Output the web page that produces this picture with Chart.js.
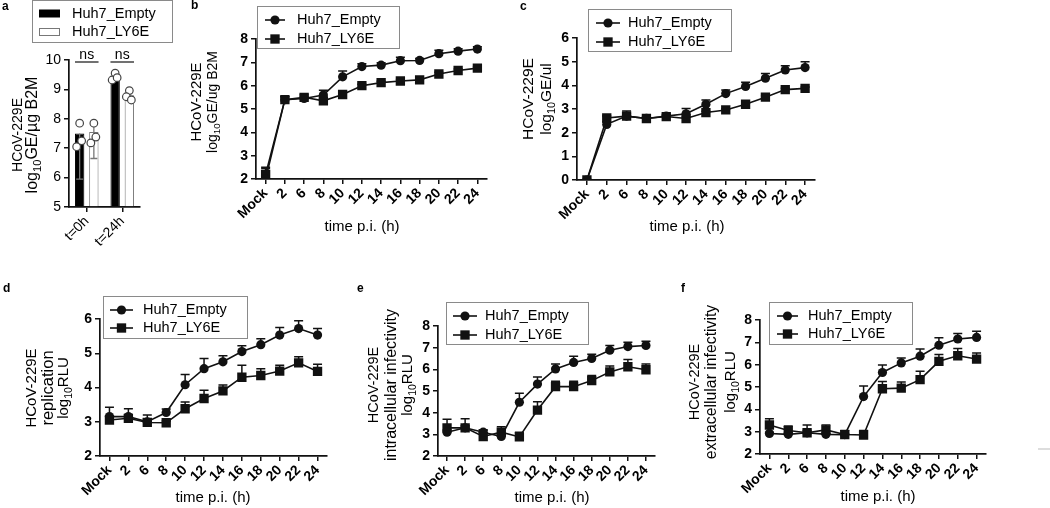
<!DOCTYPE html>
<html lang="en">
<head>
<meta charset="UTF-8">
<title>HCoV-229E - Huh7_Empty vs Huh7_LY6E</title>
<script src="https://cdn.jsdelivr.net/npm/chart.js"></script>
<style>
  html, body { margin: 0; padding: 0; background: #fff; }
  body { width: 1050px; height: 508px; position: relative; overflow: hidden; }
  canvas { position: absolute; }
  .rule { position: absolute; left: 1038px; top: 448px; width: 12px; height: 2px; background: #ddd; }
</style>
</head>
<body>
<div class="rule"></div>
<script>
// ---- data ----
const seriesNames = ['Huh7_Empty', 'Huh7_LY6E'];
const timeLabels = ['Mock', '2', '6', '8', '10', '12', '14', '16', '18', '20', '22', '24'];

// a: genome copies, t=0h / t=24h
const aGroups = ['t=0h', 't=24h'];
const aEmptyMean = [7.5, 9.35];
const aLy6eMean = [7.55, 8.8];
const aEmptyErrDown = [1.55, 0];
const aEmptyErrUp = [0, 0];
const aLy6eErrDown = [0.9, 0];
const aLy6eErrUp = [0.3, 0];
const aEmptyDots = [[7.85, 7.05, 7.25], [9.55, 9.32, 9.4]];
const aLy6eDots = [[7.85, 7.18, 7.38], [8.96, 8.75, 8.64]];
const aSig = ['ns', 'ns'];

// b: log10 GE/ug B2M
const bEmpty = [2.0, 5.4, 5.45, 5.6, 6.38, 6.82, 6.88, 7.07, 7.08, 7.37, 7.48, 7.57];
const bEmptyErr = [0.45, 0.12, 0.1, 0.2, 0.25, 0.12, 0.1, 0.15, 0.08, 0.15, 0.1, 0.1];
const bLy6e = [2.2, 5.4, 5.5, 5.35, 5.62, 6.0, 6.13, 6.2, 6.25, 6.5, 6.65, 6.75];
const bLy6eErr = [0.3, 0.12, 0.12, 0.1, 0.1, 0.06, 0.06, 0.06, 0.06, 0.08, 0.06, 0.06];

// c: log10 GE/ul
const cEmpty = [0, 2.35, 2.7, 2.6, 2.7, 2.8, 3.2, 3.65, 3.95, 4.3, 4.65, 4.75];
const cEmptyErr = [0, 0.1, 0.22, 0.08, 0.08, 0.22, 0.18, 0.15, 0.18, 0.2, 0.18, 0.25];
const cLy6e = [0, 2.62, 2.7, 2.6, 2.68, 2.6, 2.85, 2.96, 3.2, 3.5, 3.82, 3.87];
const cLy6eErr = [0, 0.08, 0.1, 0.06, 0.06, 0.06, 0.06, 0.05, 0.06, 0.06, 0.06, 0.06];

// d: replication log10 RLU
const dEmpty = [3.15, 3.15, 3.0, 3.27, 4.08, 4.55, 4.75, 5.05, 5.25, 5.53, 5.72, 5.53];
const dEmptyErr = [0.27, 0.23, 0.2, 0.1, 0.3, 0.3, 0.18, 0.17, 0.17, 0.22, 0.23, 0.19];
const dLy6e = [3.05, 3.1, 2.98, 2.97, 3.38, 3.68, 3.9, 4.3, 4.35, 4.48, 4.72, 4.47];
const dLy6eErr = [0.1, 0.1, 0.1, 0.05, 0.2, 0.24, 0.17, 0.35, 0.2, 0.17, 0.18, 0.21];

// e: intracellular infectivity log10 RLU
const eEmpty = [3.1, 3.3, 3.1, 2.9, 4.48, 5.32, 6.02, 6.32, 6.5, 6.88, 7.05, 7.1];
const eEmptyErr = [0.1, 0.1, 0.1, 0.1, 0.42, 0.33, 0.23, 0.28, 0.2, 0.22, 0.2, 0.2];
const eLy6e = [3.3, 3.3, 2.9, 3.1, 2.88, 4.12, 5.2, 5.2, 5.48, 5.88, 6.12, 5.98];
const eLy6eErr = [0.4, 0.42, 0.3, 0.25, 0.22, 0.38, 0.25, 0.25, 0.24, 0.27, 0.33, 0.27];

// f: extracellular infectivity log10 RLU
const fEmpty = [2.92, 2.88, 2.95, 2.88, 2.87, 4.57, 5.65, 6.08, 6.38, 6.87, 7.15, 7.22];
const fEmptyErr = [0.05, 0.05, 0.1, 0.05, 0.05, 0.48, 0.33, 0.22, 0.32, 0.33, 0.25, 0.28];
const fLy6e = [3.3, 3.05, 2.95, 3.08, 2.87, 2.85, 4.92, 4.95, 5.33, 6.15, 6.4, 6.25];
const fLy6eErr = [0.28, 0.2, 0.35, 0.22, 0.18, 0.2, 0.33, 0.27, 0.37, 0.3, 0.32, 0.27];

// ---- drawing helpers ----
const FONT = "'Liberation Sans', Arial, sans-serif";
const INK = '#111';

// text with _{sub} parts, centred on (x, y)
function richText(ctx, text, size, x, y, rot) {
  const parts = text.split(/_\{([^}]*)\}/);
  const sub = size * 0.7;
  let total = 0;
  parts.forEach((p, i) => {
    ctx.font = (i % 2 ? sub : size) + 'px ' + FONT;
    total += ctx.measureText(p).width;
  });
  ctx.save();
  ctx.translate(x, y);
  ctx.rotate(rot);
  ctx.textBaseline = 'middle';
  ctx.textAlign = 'left';
  let cx = -total / 2;
  parts.forEach((p, i) => {
    ctx.font = (i % 2 ? sub : size) + 'px ' + FONT;
    ctx.fillText(p, cx, i % 2 ? size * 0.32 : 0);
    cx += ctx.measureText(p).width;
  });
  ctx.restore();
}

// panel letter, axis titles and boxed legend (page coords)
function makeDeco(o) {
  return {
    id: 'deco',
    afterDraw(chart) {
      const ctx = chart.ctx;
      ctx.save();
      ctx.translate(-o.ox, -o.oy);
      ctx.fillStyle = '#000';
      ctx.textBaseline = 'middle';
      ctx.textAlign = 'left';
      ctx.font = 'bold 12px ' + FONT;
      ctx.fillText(o.letter, o.letterAt[0], o.letterAt[1]);
      o.yTitle.forEach(t => richText(ctx, t[0], t[1], t[2], o.yTitleY, -Math.PI / 2));
      if (o.xTitleAt) richText(ctx, 'time p.i. (h)', 15, o.xTitleAt[0], o.xTitleAt[1], 0);

      const L = o.legend;
      ctx.strokeStyle = '#8a8a8a';
      ctx.lineWidth = 1;
      ctx.strokeRect(L.x + 0.5, L.y + 0.5, L.w, L.h);
      chart.data.datasets.forEach((ds, i) => {
        const ry = L.rows[i];
        if (L.kind === 'bar') {
          ctx.fillStyle = ds.backgroundColor;
          ctx.strokeStyle = ds.borderColor;
          ctx.fillRect(L.lx[0], ry - 3.5, L.lx[1] - L.lx[0], 7);
          ctx.strokeRect(L.lx[0] + 0.5, ry - 3.5, L.lx[1] - L.lx[0] - 1, 7);
        } else {
          ctx.strokeStyle = INK;
          ctx.lineWidth = 1.6;
          ctx.beginPath();
          ctx.moveTo(L.lx[0], ry);
          ctx.lineTo(L.lx[1], ry);
          ctx.stroke();
          ctx.fillStyle = INK;
          Chart.helpers.drawPoint(ctx, {pointStyle: ds.pointStyle, radius: ds.pointRadius, rotation: 0, borderWidth: 0},
            (L.lx[0] + L.lx[1]) / 2, ry);
        }
        ctx.fillStyle = '#000';
        ctx.font = '14.5px ' + FONT;
        ctx.fillText(ds.label, L.tx, ry);
      });
      ctx.restore();
    }
  };
}

// upward SD bars for the time courses
const errorBars = {
  id: 'errorBars',
  beforeDatasetsDraw(chart) {
    const ctx = chart.ctx, y = chart.scales.y;
    ctx.save();
    ctx.strokeStyle = INK;
    ctx.lineWidth = 1.5;
    chart.data.datasets.forEach((ds, i) => {
      const pts = chart.getDatasetMeta(i).data;
      ds.err.forEach((e, j) => {
        if (!e) return;
        const px = pts[j].x, top = y.getPixelForValue(ds.data[j] + e);
        ctx.beginPath();
        ctx.moveTo(px, pts[j].y);
        ctx.lineTo(px, top);
        ctx.moveTo(px - 4.5, top);
        ctx.lineTo(px + 4.5, top);
        ctx.stroke();
      });
    });
    ctx.restore();
  }
};

// panel a: whiskers, replicate dots, ns brackets
const barExtras = {
  id: 'barExtras',
  afterDatasetsDraw(chart) {
    const ctx = chart.ctx, y = chart.scales.y;
    const jit = [0, -3, 2];
    ctx.save();
    chart.data.datasets.forEach((ds, i) => {
      const bars = chart.getDatasetMeta(i).data;
      bars.forEach((bar, j) => {
        const v = ds.data[j];
        if (ds.errDown[j] || ds.errUp[j]) {
          const lo = y.getPixelForValue(v - ds.errDown[j]), hi = y.getPixelForValue(v + ds.errUp[j]);
          ctx.strokeStyle = '#777';
          ctx.lineWidth = 1.3;
          ctx.beginPath();
          ctx.moveTo(bar.x, lo); ctx.lineTo(bar.x, hi);
          ctx.moveTo(bar.x - 3.5, lo); ctx.lineTo(bar.x + 3.5, lo);
          if (ds.errUp[j]) { ctx.moveTo(bar.x - 3.5, hi); ctx.lineTo(bar.x + 3.5, hi); }
          ctx.stroke();
        }
        ds.dots[j].forEach((dv, k) => {
          ctx.beginPath();
          ctx.arc(bar.x + jit[k], y.getPixelForValue(dv), 3.8, 0, Math.PI * 2);
          ctx.fillStyle = '#fff';
          ctx.fill();
          ctx.strokeStyle = '#444';
          ctx.lineWidth = 1.2;
          ctx.stroke();
        });
      });
    });
    const m0 = chart.getDatasetMeta(0).data, m1 = chart.getDatasetMeta(1).data;
    const ly = y.getPixelForValue(y.max) + 2;
    aSig.forEach((s, j) => {
      const left = m0[j].x - m0[j].width / 2, right = m1[j].x + m1[j].width / 2;
      ctx.strokeStyle = INK;
      ctx.lineWidth = 1.2;
      ctx.beginPath();
      ctx.moveTo(left, ly); ctx.lineTo(right, ly);
      ctx.stroke();
      ctx.fillStyle = '#000';
      ctx.font = '14px ' + FONT;
      ctx.textAlign = 'center';
      ctx.textBaseline = 'middle';
      ctx.fillText(s, (left + right) / 2, ly - 7);
    });
    ctx.restore();
  }
};

function xAxis(bold) {
  return {
    type: 'category',
    offset: true,
    grid: {drawOnChartArea: false, drawTicks: true, tickLength: 5, color: INK, lineWidth: 1.5, offset: false},
    border: {color: INK, width: 1.7},
    ticks: {color: '#000', font: {family: FONT, size: 14, weight: bold ? 'bold' : 'normal'},
            minRotation: 45, maxRotation: 45, autoSkip: false, padding: 1}
  };
}

function yAxis(min, max, bold) {
  return {
    type: 'linear', min, max,
    grid: {drawOnChartArea: false, drawTicks: true, tickLength: 5, color: INK, lineWidth: 1.5},
    border: {color: INK, width: 1.7},
    ticks: {stepSize: 1, color: '#000', font: {family: FONT, size: 14, weight: bold ? 'bold' : 'normal'}, padding: 3}
  };
}

function timeCourse(range, empty, emptyErr, ly6e, ly6eErr) {
  const base = {borderColor: INK, backgroundColor: INK, pointBackgroundColor: INK, borderWidth: 1.6,
                pointBorderWidth: 0, tension: 0};
  return {
    type: 'line',
    data: {
      labels: timeLabels,
      datasets: [
        Object.assign({label: seriesNames[0], data: empty, err: emptyErr, pointStyle: 'circle', pointRadius: 4.6}, base),
        Object.assign({label: seriesNames[1], data: ly6e, err: ly6eErr, pointStyle: 'rect', pointRadius: 6.6}, base)
      ]
    },
    options: {scales: {x: xAxis(true), y: yAxis(range[0], range[1], true)}},
    plugins: [errorBars]
  };
}

// box = canvas in page px, area = wanted chart area in page px
function panel(box, area, config, deco) {
  const cv = document.createElement('canvas');
  cv.width = box.w;
  cv.height = box.h;
  cv.style.left = box.x + 'px';
  cv.style.top = box.y + 'px';
  document.body.appendChild(cv);
  const o = config.options;
  o.responsive = false;
  o.animation = false;
  o.layout = {padding: {left: 0, top: area.t - box.y, right: box.x + box.w - area.r, bottom: 0}};
  o.scales.x.afterFit = s => { s.height = box.y + box.h - area.b; };
  o.scales.y.afterFit = s => { s.width = area.l - box.x; };
  o.plugins = {legend: {display: false}, tooltip: {enabled: false}};
  deco.ox = box.x;
  deco.oy = box.y;
  config.plugins = (config.plugins || []).concat([makeDeco(deco)]);
  return new Chart(cv, config);
}

// ---- panels ----
panel({x: 0, y: 0, w: 180, h: 250}, {l: 69, t: 60, r: 140, b: 207}, {
  type: 'bar',
  data: {
    labels: aGroups,
    datasets: [
      {label: seriesNames[0], data: aEmptyMean, errDown: aEmptyErrDown, errUp: aEmptyErrUp, dots: aEmptyDots,
       backgroundColor: '#000', borderColor: '#000', borderWidth: 1, base: 5},
      {label: seriesNames[1], data: aLy6eMean, errDown: aLy6eErrDown, errUp: aLy6eErrUp, dots: aLy6eDots,
       backgroundColor: '#fff', borderColor: '#777', borderWidth: 1, base: 5}
    ]
  },
  options: {
    datasets: {bar: {categoryPercentage: 0.8, barPercentage: 0.66}},
    scales: {x: xAxis(false), y: yAxis(5, 10, false)}
  },
  plugins: [barExtras]
}, {
  letter: 'a', letterAt: [2, 7],
  yTitle: [['HCoV-229E', 14, 18], ['log_{10}GE/µg B2M', 16, 33]], yTitleY: 135,
  legend: {kind: 'bar', x: 32, y: 0, w: 140, h: 42, rows: [13.5, 32], lx: [39, 60], tx: 72}
});

panel({x: 180, y: 0, w: 330, h: 250}, {l: 256, t: 39, r: 487, b: 179},
  timeCourse([2, 8], bEmpty, bEmptyErr, bLy6e, bLy6eErr), {
  letter: 'b', letterAt: [191, 6],
  yTitle: [['HCoV-229E', 15, 197], ['log_{10}GE/ug B2M', 14, 213]], yTitleY: 102,
  xTitleAt: [362, 227],
  legend: {x: 257, y: 6, w: 142, h: 42, rows: [20, 39], lx: [265, 285], tx: 297}
});

panel({x: 515, y: 0, w: 320, h: 250}, {l: 577, t: 38, r: 815, b: 180},
  timeCourse([0, 6], cEmpty, cEmptyErr, cLy6e, cLy6eErr), {
  letter: 'c', letterAt: [520, 7],
  yTitle: [['HCoV-229E', 15.5, 529], ['log_{10}GE/ul', 15.5, 547]], yTitleY: 99,
  xTitleAt: [687, 227],
  legend: {x: 588, y: 9, w: 143, h: 42, rows: [23, 42], lx: [596, 620], tx: 628}
});

panel({x: 0, y: 260, w: 340, h: 248}, {l: 100, t: 319, r: 327, b: 456},
  timeCourse([2, 6], dEmpty, dEmptyErr, dLy6e, dLy6eErr), {
  letter: 'd', letterAt: [3, 289],
  yTitle: [['HCoV-229E', 15, 32], ['replication', 16.5, 48], ['log_{10}RLU', 15, 64]], yTitleY: 388,
  xTitleAt: [213, 498],
  legend: {x: 103, y: 296, w: 144, h: 42, rows: [310, 328], lx: [110, 133], tx: 143}
});

panel({x: 345, y: 260, w: 330, h: 248}, {l: 438, t: 326, r: 655, b: 456},
  timeCourse([2, 8], eEmpty, eEmptyErr, eLy6e, eLy6eErr), {
  letter: 'e', letterAt: [357, 289],
  yTitle: [['HCoV-229E', 14.5, 374], ['intracellular infectivity', 16, 392], ['log_{10}RLU', 15, 408]], yTitleY: 385,
  xTitleAt: [552, 498],
  legend: {x: 446, y: 302, w: 142, h: 42, rows: [316, 335], lx: [453, 477], tx: 485}
});

panel({x: 680, y: 260, w: 320, h: 248}, {l: 760, t: 320, r: 986, b: 454},
  timeCourse([2, 8], fEmpty, fEmptyErr, fLy6e, fLy6eErr), {
  letter: 'f', letterAt: [681, 289],
  yTitle: [['HCoV-229E', 14.5, 695], ['extracellular infectivity', 15.8, 712], ['log_{10}RLU', 15, 731]], yTitleY: 382,
  xTitleAt: [878, 497],
  legend: {x: 769, y: 302, w: 143, h: 42, rows: [316, 334], lx: [777, 798], tx: 808}
});
</script>
</body>
</html>
